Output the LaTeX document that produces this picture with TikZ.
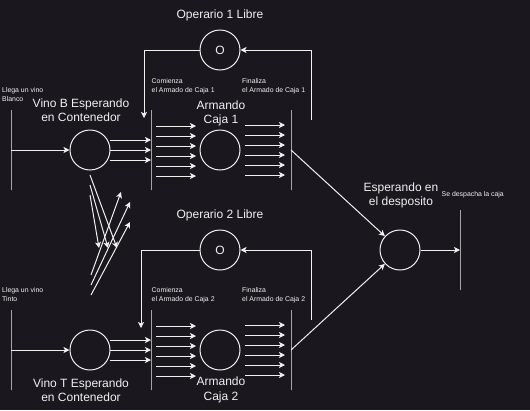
\documentclass[tikz,border=0pt]{standalone}
\usepackage{fontspec}
\setmainfont{Liberation Sans}
\usetikzlibrary{arrows.meta,calc}
\definecolor{bg}{RGB}{26,23,31}
\definecolor{fg}{RGB}{240,240,240}
\begin{document}
\begin{tikzpicture}[x=1pt,y=-1pt,
  place/.style={circle,draw=fg,line width=1pt,minimum size=40pt,inner sep=0pt,text=fg,font=\fontsize{12}{14.4}\selectfont},
  bar/.style={rectangle,draw=fg,line width=1pt,minimum width=0pt,minimum height=80pt,inner sep=0pt,outer sep=0pt},
  big/.style={text=fg,font=\fontsize{12}{14.4}\selectfont,align=center,inner sep=0pt},
  small/.style={text=fg,font=\fontsize{6.9}{9}\selectfont,align=left,inner sep=0pt,anchor=west},
  arr/.style={draw=fg,line width=1pt,-{Stealth[length=6pt,width=6pt,inset=1.5pt]}},
  ln/.style={draw=fg,line width=1pt}]
\fill[bg] (0,0) rectangle (530,410);
\useasboundingbox (0,0) rectangle (530,410);

% places
\node[place] (vb) at (90,150) {};
\node[place] (ab) at (220,150) {};
\node[place] (o1) at (220,50) {O};
\node[place] (vt) at (90,350) {};
\node[place] (at) at (220,350) {};
\node[place] (o2) at (220,250) {O};
\node[place] (dep) at (400,250) {};

% transitions
\node[bar] (t0) at (11,150) {};
\node[bar] (t1) at (151,150) {};
\node[bar] (t2) at (291,150) {};
\node[bar] (s0) at (11,350) {};
\node[bar] (s1) at (151,350) {};
\node[bar] (s2) at (291,350) {};
\node[bar] (td) at (460,250) {};

% labels
\node[big] (lo1) at (220,15) {Operario 1 Libre};
\node[big] (lo2) at (220,215) {Operario 2 Libre};
\node[big] (lvb) at (81,110) {Vino B Esperando\\en Contenedor};
\node[big] (lab) at (221,113.5) {Armando\\Caja 1};
\node[big] (lvt) at (81,390) {Vino T Esperando\\en Contenedor};
\node[big] (lat) at (221,390) {Armando\\Caja 2};
\node[big] (ldep) at (401,195.5) {Esperando en\\el desposito};
\node[small] (ll1) at (2,95) {Llega un vino\\Blanco};
\node[small] (lc1) at (151.5,86) {Comienza\\el Armado de Caja 1};
\node[small] (lf1) at (242,86) {Finaliza\\el Armado de Caja 1};
\node[small] (ll2) at (2,295) {Llega un vino\\Tinto};
\node[small] (lc2) at (151.5,295) {Comienza\\el Armado de Caja 2};
\node[small] (lf2) at (242,295) {Finaliza\\el Armado de Caja 2};
\node[small] (lsd) at (441.5,195) {Se despacha la caja};

% row 1
\draw[arr] (t0.center) -- (vb);
\foreach \d in {-10,0,10}
  \draw[arr] ($(vb.center)+(20,\d)$) -- ($(t1.center)+(0,\d)$);
\foreach \d in {-24,-14,-4,6,16,26}
  \draw[arr] ($(t1.center)+(5,\d)$) -- ($(t1.center)+(45,\d)$);
\foreach \d in {-25,-15,-5,5,15,25}
  \draw[arr] ($(t2.center)+(-46,\d)$) -- ($(t2.center)+(-6,\d)$);
\draw[arr] (o1) -| ($(t1.north)+(-7,8)$);
\draw[arr] ($(t2.north)+(20,10)$) |- (o1);
\draw[arr] (t2.center) -- (dep);

% row 2
\draw[arr] (s0.center) -- (vt);
\foreach \d in {-10,0,10}
  \draw[arr] ($(vt.center)+(20,\d)$) -- ($(s1.center)+(0,\d)$);
\foreach \d in {-24,-14,-4,6,16,26}
  \draw[arr] ($(s1.center)+(5,\d)$) -- ($(s1.center)+(45,\d)$);
\foreach \d in {-25,-15,-5,5,15,25}
  \draw[arr] ($(s2.center)+(-46,\d)$) -- ($(s2.center)+(-6,\d)$);
\draw[arr] (o2) -| ($(s1.north)+(-10,18)$);
\draw[arr] ($(s2.north)+(20,10)$) |- (o2);
\draw[arr] (s2.center) -- (dep);

% output
\draw[arr] (dep) -- (td.center);

% crossing arrows
\coordinate (d1a) at (90,175);  \coordinate (d1b) at (117,248);
\coordinate (d2a) at (90,185);  \coordinate (d2b) at (108,248);
\coordinate (d3a) at (90,195);  \coordinate (d3b) at (99,248);
\coordinate (u1a) at (91,275);  \coordinate (u1b) at (121,192);
\coordinate (u2a) at (91,285);  \coordinate (u2b) at (130,202);
\coordinate (u3a) at (91,295);  \coordinate (u3b) at (130,222);
\draw[arr] (d1a) -- (d1b);
\draw[arr] (d2a) -- (d2b);
\draw[arr] (d3a) -- (d3b);
\draw[arr] (u1a) -- (u1b);
\draw[arr] (u2a) -- (u2b);
\draw[arr] (u3a) -- (u3b);
\end{tikzpicture}
\end{document}
